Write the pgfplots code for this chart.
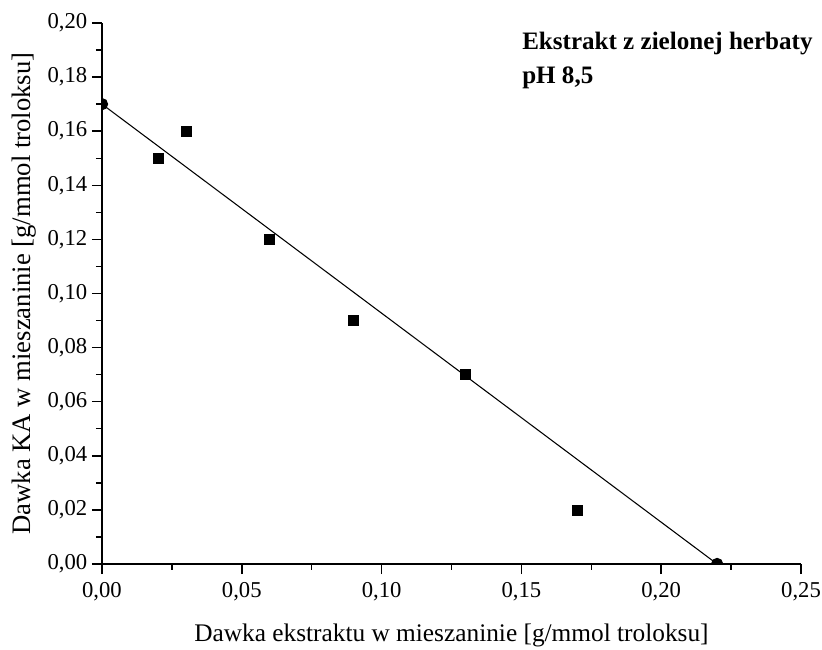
\documentclass[border=0pt]{standalone}
\usepackage{pgfplots}
\pgfplotsset{compat=1.18}
\usepackage{fontspec}
\setmainfont{Liberation Serif}
\begin{document}
\begin{tikzpicture}
\begin{axis}[
  scale only axis,
  width=524.25pt, height=405.75pt,
  xmin=0, xmax=0.25, ymin=0, ymax=0.20,
  axis x line*=bottom, axis y line*=left,
  axis line style={line width=1.1pt},
  xtick={0,0.05,...,0.25}, ytick={0,0.02,...,0.20},
  minor x tick num=1, minor y tick num=1,
  tick align=outside,
  major tick length=7.5pt, minor tick length=4.5pt,
  tick style={line width=1.1pt, black},
  /pgf/number format/.cd, fixed, fixed zerofill, precision=2, use comma, assume math mode=true,
  /pgfplots/.cd,
  ticklabel style={font=\fontsize{17}{19}\selectfont},
  xticklabel style={yshift=-3pt},
  xlabel={Dawka ekstraktu w mieszaninie [g/mmol troloksu]},
  ylabel={Dawka KA w mieszaninie [g/mmol troloksu]},
  xlabel style={font=\fontsize{19}{22}\selectfont, yshift=-10pt},
  ylabel style={font=\fontsize{20}{23}\selectfont, yshift=2pt},
  clip marker paths=true,
]
% measured points
\addplot[only marks, mark=square*, mark size=3.75pt, black] coordinates {
  (0.02,0.15) (0.03,0.16) (0.06,0.12) (0.09,0.09) (0.13,0.07) (0.17,0.02)
};
% linear fit between the axis intercepts
\addplot[black, line width=0.8pt, mark=*, mark size=4.2pt] coordinates {
  (0,0.17) (0.22,0)
};
\end{axis}
\node[anchor=north west, align=left, font=\fontsize{18.8}{25.5}\selectfont\bfseries, inner sep=0pt]
  at (315pt,399pt) {Ekstrakt z zielonej herbaty\\pH 8,5};
\pgfresetboundingbox
\path[use as bounding box] (-76.5pt,-64.5pt) rectangle (540pt,423pt);
\end{tikzpicture}
\end{document}
